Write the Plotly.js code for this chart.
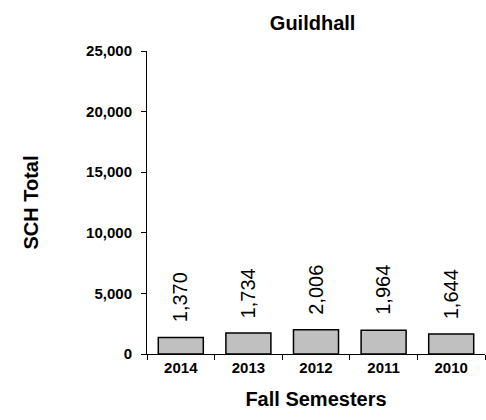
<!DOCTYPE html>
<html>
<head>
<script src="https://cdn.plot.ly/plotly-3.0.1.min.js"></script>
<style>body{margin:0;padding:0;background:#fff;}</style>
</head>
<body>
<div id="chart" style="width:486px;height:420px;"></div>
<script>
var semesters = ["2014", "2013", "2012", "2011", "2010"];
var schTotals = [1370, 1734, 2006, 1964, 1644];

var FONT = "Liberation Sans, Arial, sans-serif";

var trace = {
  type: "bar",
  x: semesters,
  y: schTotals,
  marker: {color: "#c0c0c0", line: {color: "#000000", width: 1.5}},
  hoverinfo: "none"
};

// annotations on a category axis are positioned by category index
var labels = semesters.map(function(s, i){
  return {
    x: i, y: schTotals[i], xref: "x", yref: "y",
    text: schTotals[i].toLocaleString("en-US"),
    textangle: -90, showarrow: false,
    xanchor: "center", yanchor: "bottom", yshift: 13,
    font: {family: FONT, size: 20, color: "#000"}
  };
});

var layout = {
  width: 486, height: 420,
  margin: {l: 147, r: 1, t: 51, b: 66},
  paper_bgcolor: "#fff", plot_bgcolor: "#fff",
  bargap: 0.334,
  showlegend: false,
  font: {family: FONT, color: "#000"},
  title: {text: "<b>Guildhall</b>", font: {family: FONT, size: 20, color: "#000"}, xref: "paper", x: 0.49, xanchor: "center", y: 0.945, yanchor: "middle"},
  annotations: labels,
  xaxis: {
    type: "category",
    categoryorder: "array", categoryarray: semesters,
    range: [-0.5, semesters.length - 0.5],
    showline: true, linecolor: "#000", linewidth: 1,
    ticks: "outside", ticklen: 5, tickcolor: "#000", tickson: "boundaries",
    tickfont: {family: FONT, size: 15, color: "#000", weight: "bold"},
    showgrid: false, zeroline: false,
    title: {text: "<b>Fall Semesters</b>", font: {family: FONT, size: 20, color: "#000"}, standoff: 16}
  },
  yaxis: {
    range: [0, 25000], dtick: 5000, tickformat: ",d",
    showline: true, linecolor: "#000", linewidth: 1,
    ticks: "outside", ticklen: 5, tickcolor: "#000",
    ticklabelstandoff: 6,
    tickfont: {family: FONT, size: 15, color: "#000", weight: "bold"},
    showgrid: false, zeroline: false,
    title: {text: "<b>SCH Total</b>", font: {family: FONT, size: 20, color: "#000"}, standoff: 42}
  }
};

Plotly.newPlot("chart", [trace], layout, {displayModeBar: false, staticPlot: true});
</script>
</body>
</html>
